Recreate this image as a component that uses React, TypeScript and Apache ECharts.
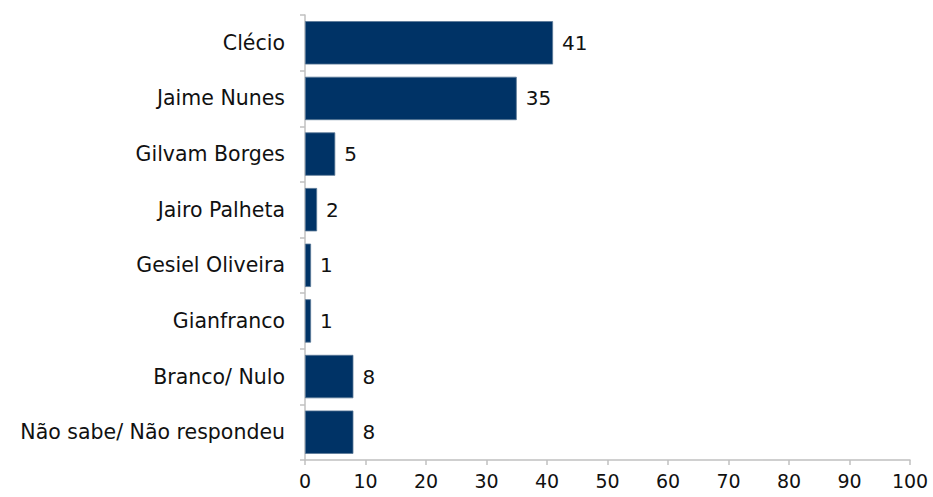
import React, { useEffect, useRef } from "react";
import * as echarts from "echarts";

const categories = [
  "Clécio",
  "Jaime Nunes",
  "Gilvam Borges",
  "Jairo Palheta",
  "Gesiel Oliveira",
  "Gianfranco",
  "Branco/ Nulo",
  "Não sabe/ Não respondeu",
];
const values = [41, 35, 5, 2, 1, 1, 8, 8];
const xTicks = { min: 0, max: 100, interval: 10 };

export default function App() {
  const ref = useRef<HTMLDivElement>(null);
  useEffect(() => {
    if (!ref.current) return;
    const chart = echarts.init(ref.current, null, { renderer: "svg" });
    const font = "Verdana, DejaVu Sans, sans-serif";
    chart.setOption({
      animation: false,
      backgroundColor: "#ffffff",
      grid: { left: 305, right: 23, top: 15, bottom: 37, containLabel: false },
      xAxis: {
        type: "value",
        min: xTicks.min,
        max: xTicks.max,
        interval: xTicks.interval,
        axisLine: { show: true, lineStyle: { color: "#c0c0c0", width: 1.5 } },
        axisTick: { show: true, length: 5, lineStyle: { color: "#c0c0c0", width: 1.5 } },
        axisLabel: { color: "#111", fontFamily: font, fontSize: 19, margin: 11 },
        splitLine: { show: false },
      },
      yAxis: {
        type: "category",
        data: categories,
        inverse: true,
        axisLine: { show: true, lineStyle: { color: "#c0c0c0", width: 1.5 } },
        axisTick: { show: true, length: 5, alignWithLabel: false, lineStyle: { color: "#c0c0c0", width: 1.5 } },
        axisLabel: { color: "#111", fontFamily: font, fontSize: 20.5, margin: 20 },
      },
      series: [
        {
          type: "bar",
          data: values,
          barCategoryGap: "22%",
          itemStyle: { color: "#003366", borderColor: "#5a7897", borderWidth: 0.8 },
          label: {
            show: true,
            position: "right",
            distance: 9,
            color: "#111",
            fontFamily: font,
            fontSize: 20,
          },
        },
      ],
    });
    return () => chart.dispose();
  }, []);
  return (
    <div
      ref={ref}
      style={{ position: "fixed", left: 0, top: 0, width: 933, height: 497 }}
    />
  );
}
